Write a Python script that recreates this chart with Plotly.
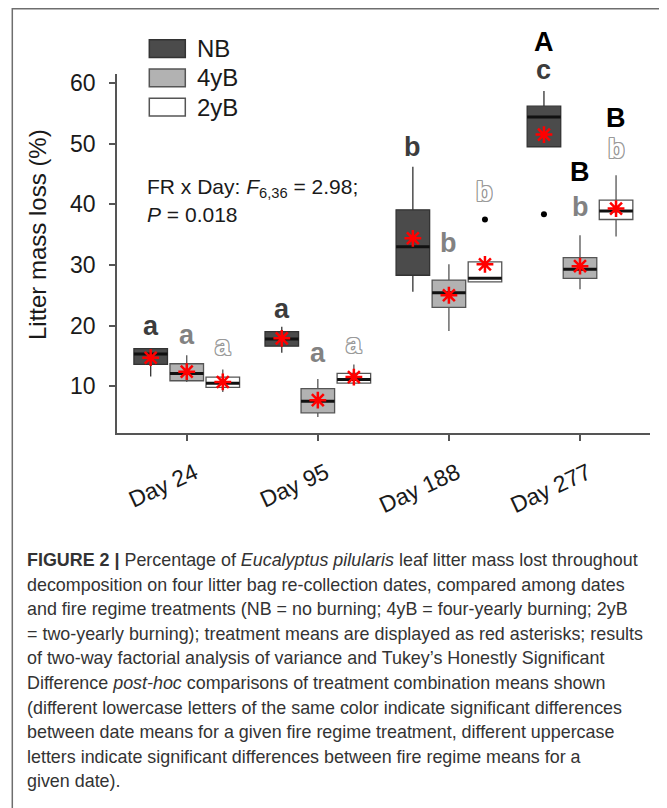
import plotly.graph_objects as go

# ---------------- data ----------------
days = ["Day 24", "Day 95", "Day 188", "Day 277"]
treatments = ["NB", "4yB", "2yB"]

nb_q1 = [13.6, 16.6, 28.3, 49.5]
nb_med = [15.3, 17.8, 33.0, 54.4]
nb_q3 = [16.2, 19.0, 39.1, 56.2]
nb_lo = [11.6, 15.5, 25.6, 49.5]
nb_hi = [16.2, 19.8, 46.2, 58.7]
nb_mean = [14.7, 17.9, 34.4, 51.5]

y4_q1 = [10.9, 5.6, 23.0, 27.8]
y4_med = [12.1, 7.5, 25.4, 29.3]
y4_q3 = [13.7, 9.6, 27.5, 31.2]
y4_lo = [10.7, 4.9, 19.1, 26.0]
y4_hi = [15.1, 11.2, 30.1, 34.9]
y4_mean = [12.4, 7.7, 25.0, 29.8]

y2_q1 = [9.8, 10.5, 27.2, 37.5]
y2_med = [10.5, 11.1, 27.8, 38.9]
y2_q3 = [11.5, 12.1, 30.5, 40.7]
y2_lo = [9.05, 10.5, 27.2, 34.7]
y2_hi = [12.75, 13.6, 30.5, 44.8]
y2_mean = [10.7, 11.5, 30.1, 39.3]

# outliers: (day index, treatment index, value)
outlier_day = [2, 3]
outlier_trt = [2, 0]
outlier_val = [37.5, 38.35]

# Tukey letters (lowercase per treatment) and their heights
nb_letters = ["a", "a", "b", "c"]
nb_letter_y = [19.9, 22.8, 49.5, 62.1]
y4_letters = ["a", "a", "b", "b"]
y4_letter_y = [18.5, 15.5, 33.6, 39.6]
y2_letters = ["a", "a", "b", "b"]
y2_letter_y = [16.6, 16.9, 42.0, 49.1]
# uppercase letters (fire regime comparison, Day 277)
upper_letters = ["A", "B", "B"]
upper_trt = [0, 1, 2]
upper_day = [3, 3, 3]
upper_y = [66.7, 45.4, 54.2]

# ---------------- styling ----------------
FONT = "Liberation Sans, Arial, sans-serif"
fills = ["#4b4b4b", "#b2b2b2", "#ffffff"]
edges = ["#333333", "#555555", "#555555"]
letter_cols = ["#3c3c3c", "#828282", "#ffffff"]
OFFSET = 0.275
BW = 0.256
YMIN, YMAX = 2.28, 61.5

# the page body has an 8px margin: work in page pixels and shift
OX, OY = 8, 8
W, H = 667 - OX, 808 - OY
PLOT_L, PLOT_R, PLOT_T, PLOT_B = 117, 650, 74, 433  # page pixel bounds of plot area
L = PLOT_L - OX
T = PLOT_T - OY
R = W - (PLOT_R - OX)
B = H - (PLOT_B - OY)
PW, PH = PLOT_R - PLOT_L, PLOT_B - PLOT_T


def pxx(xp):
    return (xp - PLOT_L) / PW


def pyy(yp):
    return (PLOT_B - yp) / PH


def yfrac(v):
    return (v - YMIN) / (YMAX - YMIN)


def xpos(day_i, trt_i):
    return day_i + 1 + (trt_i - 1) * OFFSET


stats = [
    (nb_q1, nb_med, nb_q3, nb_lo, nb_hi, nb_mean),
    (y4_q1, y4_med, y4_q3, y4_lo, y4_hi, y4_mean),
    (y2_q1, y2_med, y2_q3, y2_lo, y2_hi, y2_mean),
]
letters = [(nb_letters, nb_letter_y), (y4_letters, y4_letter_y), (y2_letters, y2_letter_y)]

fig = go.Figure()

for t, (q1, med, q3, lo, hi, mean) in enumerate(stats):
    xs = [xpos(i, t) for i in range(len(days))]
    fig.add_trace(go.Box(
        x=xs, q1=q1, median=med, q3=q3, lowerfence=lo, upperfence=hi,
        width=BW, whiskerwidth=0, boxpoints=False,
        fillcolor=fills[t], line=dict(color=edges[t], width=1.3),
        hoverinfo="skip", showlegend=False, name=treatments[t],
    ))
    # thick median lines
    mx, my = [], []
    for x, m in zip(xs, med):
        mx += [x - BW / 2, x + BW / 2, None]
        my += [m, m, None]
    fig.add_trace(go.Scatter(x=mx, y=my, mode="lines",
                             line=dict(color="#111111", width=3),
                             hoverinfo="skip", showlegend=False))

# outliers
fig.add_trace(go.Scatter(
    x=[xpos(d, t) for d, t in zip(outlier_day, outlier_trt)],
    y=outlier_val, mode="markers",
    marker=dict(color="#000000", size=6),
    hoverinfo="skip", showlegend=False))

# means (red asterisks)
for t, st in enumerate(stats):
    xs = [xpos(i, t) for i in range(len(days))]
    fig.add_trace(go.Scatter(
        x=xs, y=st[5], mode="markers",
        marker=dict(symbol="asterisk-open", size=14, color="#ff0000",
                    line=dict(color="#ff0000", width=2.5)),
        hoverinfo="skip", showlegend=False))

shapes = []
annotations = []

# letters (annotations so that those above the axis range stay visible)
outline = "#9a9a9a"
shadow = ", ".join(f"{a}px {b}px 0 {outline}" for a, b in
                   [(1, 0), (-1, 0), (0, 1), (0, -1), (1, 1), (-1, -1), (1, -1), (-1, 1)])
LS = 27
for t, (labs, ly) in enumerate(letters):
    for i, (lab, v) in enumerate(zip(labs, ly)):
        f = dict(family=FONT, size=LS, color=letter_cols[t], weight="bold")
        if t == 2:
            f["shadow"] = shadow
        annotations.append(dict(xref="x", yref="paper", x=xpos(i, t), y=yfrac(v),
                                xanchor="center", yanchor="middle", showarrow=False,
                                text=lab, font=f))
for lab, d, t, v in zip(upper_letters, upper_day, upper_trt, upper_y):
    annotations.append(dict(xref="x", yref="paper", x=xpos(d, t), y=yfrac(v),
                            xanchor="center", yanchor="middle", showarrow=False,
                            text=lab,
                            font=dict(family=FONT, size=LS, color="#000000", weight="bold")))

# outer frame
shapes.append(dict(type="rect", xref="paper", yref="paper",
                   x0=pxx(12.3), x1=pxx(664), y0=pyy(830), y1=pyy(8.8),
                   line=dict(color="#6e6e6e", width=1.5), fillcolor="rgba(0,0,0,0)",
                   layer="below"))

# custom legend
leg_tops = [39.7, 69.0, 98.3]
for t in range(3):
    shapes.append(dict(type="rect", xref="paper", yref="paper",
                       x0=pxx(149.3), x1=pxx(185.3),
                       y0=pyy(leg_tops[t] + 17.7), y1=pyy(leg_tops[t]),
                       fillcolor=fills[t], line=dict(color=edges[t], width=1.5)))
    annotations.append(dict(xref="paper", yref="paper", x=pxx(195),
                            y=pyy(leg_tops[t] + 8.8), xanchor="left", yanchor="middle",
                            text=treatments[t], showarrow=False,
                            font=dict(family=FONT, size=24, color="#1a1a1a")))

# statistics text
annotations.append(dict(xref="paper", yref="paper", x=pxx(145), y=pyy(187.5),
                        xanchor="left", yanchor="middle", showarrow=False,
                        text="FR x Day: <i>F</i><sub>6,36</sub> = 2.98;",
                        font=dict(family=FONT, size=21, color="#1a1a1a")))
annotations.append(dict(xref="paper", yref="paper", x=pxx(145), y=pyy(214.0),
                        xanchor="left", yanchor="middle", showarrow=False,
                        text="<i>P</i> = 0.018",
                        font=dict(family=FONT, size=21, color="#1a1a1a")))

# y-axis title
annotations.append(dict(xref="paper", yref="paper", x=pxx(37), y=pyy(234),
                        xanchor="center", yanchor="middle", showarrow=False,
                        textangle=-90, text="Litter mass loss (%)",
                        font=dict(family=FONT, size=24, color="#1a1a1a")))

# caption
caption_lines = [
    "<b>FIGURE 2 |</b> Percentage of <i>Eucalyptus pilularis</i> leaf litter mass lost throughout",
    "decomposition on four litter bag re-collection dates, compared among dates",
    "and fire regime treatments (NB = no burning; 4yB = four-yearly burning; 2yB",
    "= two-yearly burning); treatment means are displayed as red asterisks; results",
    "of two-way factorial analysis of variance and Tukey’s Honestly Significant",
    "Difference <i>post-hoc</i> comparisons of treatment combination means shown",
    "(different lowercase letters of the same color indicate significant differences",
    "between date means for a given fire regime treatment, different uppercase",
    "letters indicate significant differences between fire regime means for a",
    "given date).",
]
for k, line in enumerate(caption_lines):
    annotations.append(dict(xref="paper", yref="paper", x=pxx(25),
                            y=pyy(560.0 + k * 24.6), xanchor="left", yanchor="middle",
                            showarrow=False, text=line,
                            font=dict(family=FONT, size=17.9, color="#333333")))

fig.update_layout(
    width=W, height=H,
    margin=dict(l=L, r=R, t=T, b=B, autoexpand=False),
    paper_bgcolor="#ffffff", plot_bgcolor="#ffffff",
    showlegend=False,
    shapes=shapes, annotations=annotations,
    font=dict(family=FONT, color="#1a1a1a"),
    xaxis=dict(range=[0.468, 4.534], tickvals=[1, 2, 3, 4], ticktext=days,
               tickangle=-25, showline=True, linecolor="#555555", linewidth=1.5,
               ticks="outside", ticklen=6, tickwidth=1.5, tickcolor="#555555",
               showgrid=False, zeroline=False, ticklabelstandoff=10,
               ticklabelshift=8,
               tickfont=dict(family=FONT, size=23, color="#1a1a1a")),
    yaxis=dict(range=[YMIN, YMAX], tickvals=[10, 20, 30, 40, 50, 60],
               showline=True, linecolor="#555555", linewidth=1.5,
               ticks="outside", ticklen=6, tickwidth=1.5, tickcolor="#555555",
               showgrid=False, zeroline=False, ticklabelstandoff=9,
               tickfont=dict(family=FONT, size=23, color="#1a1a1a")),
)

fig.write_html("out.html")
